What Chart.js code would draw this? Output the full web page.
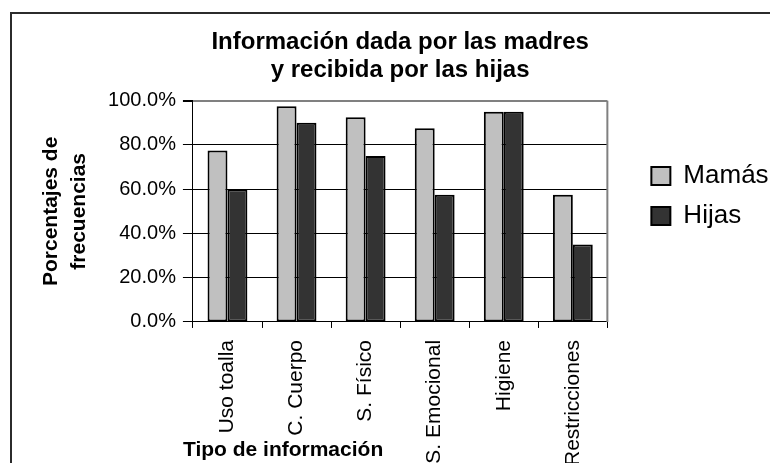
<!DOCTYPE html>
<html>
<head>
<meta charset="utf-8">
<title>Información dada por las madres y recibida por las hijas</title>
<script src="https://cdn.jsdelivr.net/npm/chart.js@4.4.1/dist/chart.umd.min.js"></script>
<style>
  html, body { margin: 0; padding: 0; background: #fff; }
  #wrap { position: relative; width: 770px; height: 463px; overflow: hidden; }
  #wrap canvas { position: absolute; left: 0; top: 0; }
  /* outer chart frame, cut off on the right and bottom like the original */
  #frame {
    position: absolute; left: 10px; top: 12px; width: 800px; height: 500px;
    border-left: 2px solid #2b2b2b; border-top: 2px solid #2b2b2b;
    pointer-events: none;
  }
</style>
</head>
<body>
<div id="wrap">
  <canvas id="chart" width="780" height="480"></canvas>
  <div id="frame"></div>
</div>
<script>
const categories = ['Uso toalla', 'C. Cuerpo', 'S. Físico', 'S. Emocional', 'Higiene', 'Restricciones'];
const mamas = [77.5, 97.5, 92.5, 87.5, 95, 57.5];
const hijas = [60, 90, 75, 57.5, 95, 35];
const yTicks = [0, 20, 40, 60, 80, 100];

const chartTitle = ['Información dada por las madres', 'y recibida por las hijas'];
const yTitle = ['Porcentajes de', 'frecuencias'];
const xTitle = 'Tipo de información';

const FONT = 'Arial, "Liberation Sans", sans-serif';

// bits of the Excel look that Chart.js has no option for
const excelBits = {
    id: 'excelBits',
    afterLayout(chart) {
        // Excel leaves a gap between the plot frame and the legend
        chart.legend.left += 30;
        chart.legend.right += 30;
    },
    beforeDatasetsDraw(chart) {
        const { ctx, chartArea } = chart;
        // grey right edge of the plot frame
        ctx.save();
        ctx.strokeStyle = '#808080';
        ctx.lineWidth = 2;
        ctx.beginPath();
        ctx.moveTo(chartArea.right, chartArea.top);
        ctx.lineTo(chartArea.right, chartArea.bottom);
        ctx.stroke();
        ctx.restore();
    },
    afterDraw(chart) {
        // x axis title sits beside the rotated labels
        const { ctx, chartArea } = chart;
        ctx.save();
        ctx.font = 'bold 21px ' + FONT;
        ctx.fillStyle = '#000';
        ctx.textBaseline = 'middle';
        ctx.textAlign = 'left';
        ctx.fillText(xTitle, chartArea.left - 10, chartArea.bottom + 128);
        ctx.restore();
    }
};

new Chart(document.getElementById('chart'), {
    type: 'bar',
    data: {
        labels: categories,
        datasets: [{
            label: 'Mamás',
            data: mamas,
            backgroundColor: '#c0c0c0',
            borderColor: '#000',
            borderWidth: 2,
            borderSkipped: false
        }, {
            label: 'Hijas',
            data: hijas,
            backgroundColor: '#333333',
            borderColor: '#000',
            borderWidth: 2,
            borderSkipped: false
        }]
    },
    options: {
        responsive: false,
        animation: false,
        devicePixelRatio: 1,
        events: [],
        layout: { padding: { left: 19, right: 31.4, top: 0, bottom: 2 } },
        datasets: {
            bar: { categoryPercentage: 0.577, barPercentage: 1 }
        },
        scales: {
            x: {
                grid: { drawOnChartArea: false, drawTicks: true, tickLength: 6, color: '#000' },
                border: { color: '#000', width: 1 },
                ticks: {
                    autoSkip: false, minRotation: 90, maxRotation: 90, padding: 12,
                    color: '#000', font: { family: FONT, size: 21 }
                }
            },
            y: {
                min: 0,
                max: 100,
                afterBuildTicks: axis => { axis.ticks = yTicks.map(v => ({ value: v })); },
                grid: {
                    color: c => c.tick && c.tick.value === 100 ? '#808080' : '#000',
                    lineWidth: c => c.tick && c.tick.value === 100 ? 2 : 1,
                    tickColor: '#000',
                    tickLength: 10
                },
                border: { color: '#000', width: 1 },
                ticks: {
                    padding: 7,
                    color: '#000',
                    font: { family: FONT, size: 20 },
                    callback: v => v.toFixed(1) + '%'
                },
                title: {
                    display: true,
                    text: yTitle,
                    color: '#000',
                    font: { family: FONT, size: 21, weight: 'bold', lineHeight: 1.3 },
                    padding: { top: 19, bottom: 8.5 }
                }
            }
        },
        plugins: {
            title: {
                display: true,
                fullSize: false,
                text: chartTitle,
                color: '#000',
                font: { family: FONT, size: 24, weight: 'bold', lineHeight: 1.2 },
                padding: { top: 27.6, bottom: 15.5 }
            },
            legend: {
                position: 'right',
                align: 'start',
                fullSize: false,
                // empty title only pushes the entries down to where Excel put them
                title: { display: true, text: '', padding: { top: 34, bottom: 0 }, font: { size: 12 } },
                labels: {
                    boxWidth: 19,
                    boxHeight: 18,
                    padding: 14,
                    color: '#000',
                    font: { family: FONT, size: 26 }
                }
            },
            tooltip: { enabled: false }
        }
    },
    plugins: [excelBits]
});
</script>
</body>
</html>
